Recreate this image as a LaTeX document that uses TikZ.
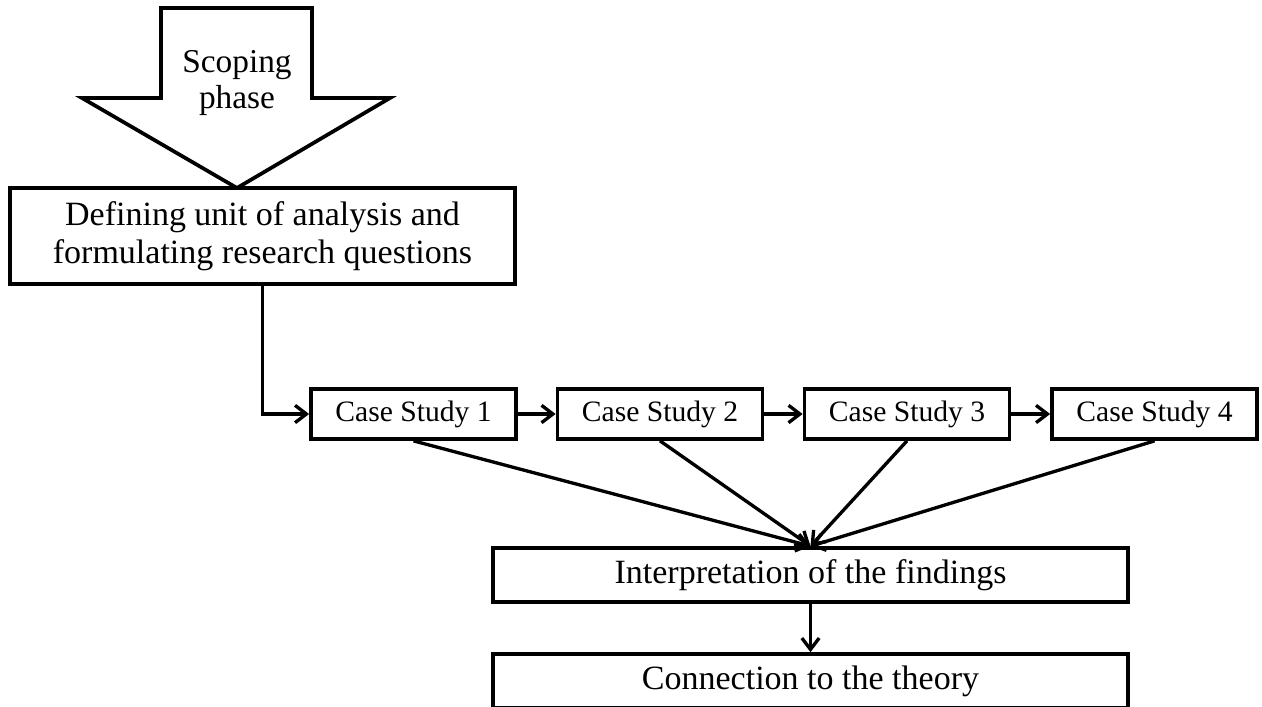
\documentclass[tikz,border=0pt]{standalone}
\usepackage{fontspec}
\setmainfont{Liberation Serif}
\usetikzlibrary{arrows.meta}
\begin{document}
\begin{tikzpicture}[x=0.75pt,y=-0.75pt,
  box/.style={draw, line width=2.8pt, fill=white, inner sep=0pt, align=center,
    font=\fontsize{25.5pt}{28.5pt}\selectfont},
  casebox/.style={box, minimum width=153.75pt, minimum height=37.5pt,
    font=\fontsize{22.2pt}{26pt}\selectfont},
  wide/.style={box, minimum width=476.25pt, minimum height=40.5pt},
  link/.style={line width=2.5pt},
  flow/.style={link, -{Straight Barb[length=8.5pt,width=13pt,line width=2.5pt]}}]
\useasboundingbox (0,0) rectangle (1262,706);

% block arrow for the scoping phase
\draw[line width=2.8pt, line join=miter, fill=white]
  (161,8) -- (312,8) -- (312,98) -- (390,98) -- (237,188) -- (82,98) -- (161,98) -- cycle;
\node[align=center, font=\fontsize{25pt}{27pt}\selectfont] (scope) at (237,83) {Scoping\\phase};

% boxes
\node[box, minimum width=378.75pt, minimum height=72pt] (define) at (262.5,236)
  {Defining unit of analysis and\\formulating research questions};
\node[casebox] (cs1) at (413.5,414) {Case Study 1};
\node[casebox] (cs2) at (660,414) {Case Study 2};
\node[casebox] (cs3) at (907,414) {Case Study 3};
\node[casebox] (cs4) at (1154.5,414) {Case Study 4};
\node[wide] (interp) at (810.5,575) {Interpretation of the findings};
\node[wide] (conn) at (810.5,681) {Connection to the theory};

% connectors
\draw[flow] (define.south) |- (cs1.west);
\draw[flow] (cs1.east) -- (cs2.west);
\draw[flow] (cs2.east) -- (cs3.west);
\draw[flow] (cs3.east) -- (cs4.west);
\draw[flow] (cs1.south) -- (interp.north);
\draw[flow] (cs2.south) -- (interp.north);
\draw[flow] (cs3.south) -- (interp.north);
\draw[flow] (cs4.south) -- (interp.north);
\draw[flow] (interp.south) -- (conn.north);
\end{tikzpicture}
\end{document}
